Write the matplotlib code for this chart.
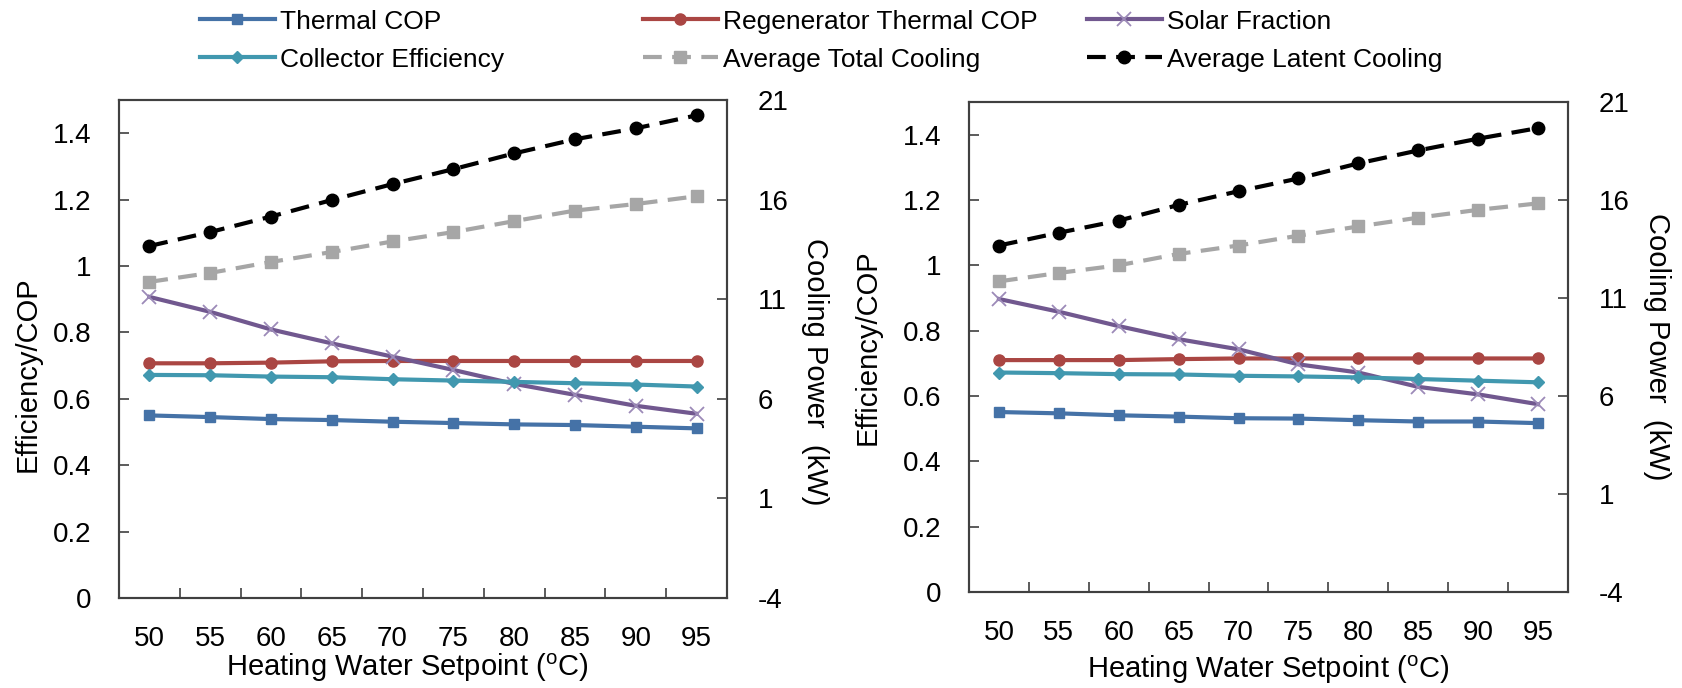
import matplotlib
matplotlib.use('Agg')
import matplotlib.pyplot as plt
from matplotlib.ticker import FuncFormatter, FixedLocator

plt.rcParams['font.family'] = ['Liberation Sans', 'DejaVu Sans']
plt.rcParams['mathtext.fontset'] = 'custom'
plt.rcParams['mathtext.rm'] = 'Liberation Sans'
plt.rcParams['axes.unicode_minus'] = False

setpoints = [50, 55, 60, 65, 70, 75, 80, 85, 90, 95]

# left panel
thermal_cop_a = [0.550, 0.545, 0.539, 0.536, 0.531, 0.527, 0.523, 0.521, 0.516, 0.511]
regen_cop_a = [0.707, 0.707, 0.709, 0.713, 0.714, 0.714, 0.714, 0.714, 0.714, 0.714]
solar_frac_a = [0.907, 0.862, 0.809, 0.767, 0.727, 0.687, 0.645, 0.612, 0.579, 0.555]
collector_eff_a = [0.672, 0.671, 0.667, 0.665, 0.659, 0.655, 0.651, 0.647, 0.643, 0.637]
total_cool_a = [11.87, 12.32, 12.87, 13.37, 13.90, 14.37, 14.92, 15.45, 15.78, 16.17]
latent_cool_a = [13.67, 14.37, 15.15, 15.98, 16.78, 17.53, 18.32, 19.03, 19.58, 20.23]

# right panel
thermal_cop_b = [0.551, 0.547, 0.541, 0.537, 0.532, 0.531, 0.526, 0.522, 0.522, 0.517]
regen_cop_b = [0.710, 0.710, 0.710, 0.713, 0.715, 0.715, 0.715, 0.715, 0.715, 0.715]
solar_frac_b = [0.897, 0.858, 0.814, 0.774, 0.743, 0.697, 0.672, 0.628, 0.605, 0.575]
collector_eff_b = [0.672, 0.670, 0.667, 0.666, 0.662, 0.660, 0.657, 0.652, 0.647, 0.642]
total_cool_b = [11.85, 12.28, 12.67, 13.25, 13.68, 14.18, 14.65, 15.10, 15.50, 15.83]
latent_cool_b = [13.68, 14.33, 14.95, 15.75, 16.45, 17.10, 17.87, 18.53, 19.13, 19.67]

left_ticks = [0, 0.2, 0.4, 0.6, 0.8, 1.0, 1.2, 1.4]
right_ticks = [-4, 1, 6, 11, 16, 21]

C_BLUE = '#4572A7'
C_RED = '#AA4643'
C_PURPLE = '#71588F'
C_PURPLE_LT = '#9C8AB8'
C_TEAL = '#4198AF'
C_GRAY = '#A6A6A6'
SPINE = '#404040'

TICK_FS = 20
LABEL_FS = 21
LW = 3
DASH = (0, (4.5, 2.5))


def draw_panel(ax, tcop, rcop, sfrac, ceff, tcool, lcool, xl_pos, yl_pos, yr_pos):
    x = list(range(len(setpoints)))
    h = {}
    h['Thermal COP'], = ax.plot(x, tcop, color=C_BLUE, lw=LW, marker='s', ms=7.5, zorder=3)
    h['Regenerator Thermal COP'], = ax.plot(x, rcop, color=C_RED, lw=LW, marker='o', ms=8, zorder=3)
    h['Collector Efficiency'], = ax.plot(x, ceff, color=C_TEAL, lw=LW, marker='D', ms=6.5, zorder=4)
    h['Solar Fraction'], = ax.plot(x, sfrac, color=C_PURPLE, lw=LW, marker='x', ms=10,
                                   mec=C_PURPLE_LT, mew=1.3, zorder=3)
    ax.set_xlim(-0.5, len(setpoints) - 0.5)
    ax.set_ylim(0, 1.5)
    ax.yaxis.set_major_locator(FixedLocator(left_ticks))
    ax.yaxis.set_major_formatter(FuncFormatter(lambda v, p: f'{v:g}'))
    # category boundaries as tick marks, labels at category centres
    ax.xaxis.set_major_locator(FixedLocator([i + 0.5 for i in x[:-1]]))
    ax.xaxis.set_major_formatter(FuncFormatter(lambda v, p: ''))
    ax.xaxis.set_minor_locator(FixedLocator(x))
    ax.xaxis.set_minor_formatter(FuncFormatter(lambda v, p: str(setpoints[int(round(v))])))
    ax.tick_params(axis='x', which='major', direction='in', length=7, width=1.2, color=SPINE)
    ax.tick_params(axis='x', which='minor', length=0, pad=20, labelsize=TICK_FS)
    ax.tick_params(axis='y', direction='in', length=7, width=1.2, color=SPINE, pad=20, labelsize=TICK_FS)
    for s in ax.spines.values():
        s.set_color(SPINE)
        s.set_linewidth(1.5)
    ax.set_xlabel(r'Heating Water Setpoint ($\mathregular{^o}$C)', fontsize=LABEL_FS, va='center')
    ax.xaxis.set_label_coords(*xl_pos)
    ax.set_ylabel('Efficiency/COP', fontsize=LABEL_FS, va='center')
    ax.yaxis.set_label_coords(*yl_pos)

    ax2 = ax.twinx()
    h['Average Total Cooling'], = ax2.plot(x, tcool, color=C_GRAY, lw=LW, ls=DASH, marker='s', ms=8, zorder=3)
    h['Average Latent Cooling'], = ax2.plot(x, lcool, color='black', lw=LW, ls=DASH, marker='o', ms=9, zorder=3)
    ax2.set_ylim(-4, 21)
    ax2.yaxis.set_major_locator(FixedLocator(right_ticks))
    ax2.tick_params(axis='y', direction='in', length=7, width=1.2, color=SPINE, pad=22, labelsize=TICK_FS)
    for s in ax2.spines.values():
        s.set_color(SPINE)
        s.set_linewidth(1.5)
    ax2.set_ylabel('Cooling Power  (kW)', fontsize=LABEL_FS, rotation=270, va='center')
    ax2.yaxis.set_label_coords(*yr_pos)
    return h


fig = plt.figure(figsize=(16.82, 6.88), dpi=100)
ax_a = fig.add_axes([0.0707, 0.1308, 0.3615, 0.7238])
ax_b = fig.add_axes([0.5761, 0.1395, 0.3561, 0.7122])

handles = draw_panel(ax_a, thermal_cop_a, regen_cop_a, solar_frac_a, collector_eff_a,
                     total_cool_a, latent_cool_a, (0.474, -0.14), (-0.150, 0.45), (1.145, 0.454))
draw_panel(ax_b, thermal_cop_b, regen_cop_b, solar_frac_b, collector_eff_b,
           total_cool_b, latent_cool_b, (0.5, -0.159), (-0.169, 0.5), (1.149, 0.5))

# legend: three columns placed by hand
columns = [
    (['Thermal COP', 'Collector Efficiency'], 200),
    (['Regenerator Thermal COP', 'Average Total Cooling'], 643),
    (['Solar Fraction', 'Average Latent Cooling'], 1087),
]
for names, xpx in columns:
    fig.legend([handles[n] for n in names], names, loc='upper left',
               bbox_to_anchor=(xpx / 1682, 0.986), frameon=False, fontsize=19,
               handlelength=2.84, handletextpad=0.2, labelspacing=0.53,
               borderpad=0, borderaxespad=0)

fig.savefig('out.png', dpi=100)
